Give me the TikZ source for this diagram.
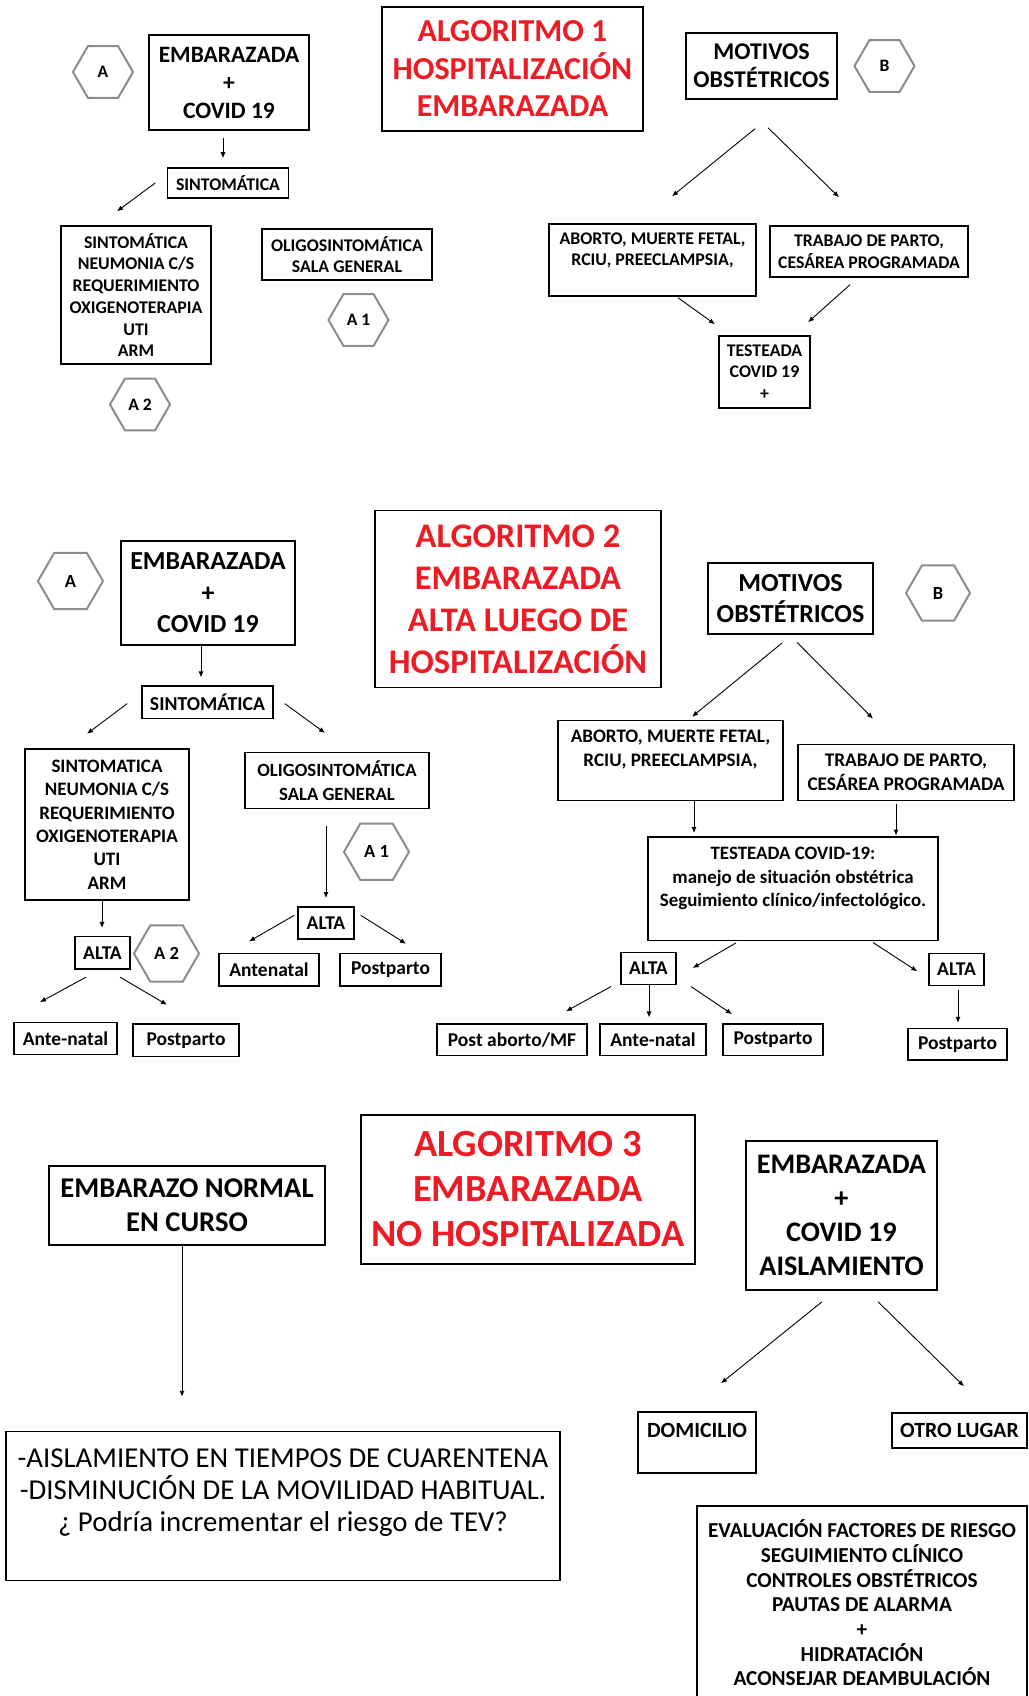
\documentclass[tikz,border=0pt]{standalone}
\usepackage{fontspec}
\setmainfont{Carlito}
\usetikzlibrary{arrows.meta,shapes.geometric}
\definecolor{algred}{RGB}{237,28,36}
\definecolor{hexgray}{RGB}{140,140,140}
\newcommand{\fsz}[2]{\fontsize{#1}{#2}\selectfont}
\tikzset{
  box/.style={draw, line width=1.5pt, align=center, inner sep=0pt, font=\bfseries\fsz{17.8}{21.7}},
  titlebox/.style={box, text=algred},
  hexa/.style={regular polygon, regular polygon sides=6, draw=hexgray, line width=2pt, inner sep=0pt, minimum size=60pt, font=\bfseries\fsz{17.5}{19}},
  arr/.style={-{Latex[length=6pt,width=5pt]}, line width=0.9pt},
}

\begin{document}
\begin{tikzpicture}[x=1pt,y=-1pt]
\useasboundingbox[fill=white] (0,0) rectangle (1028,1696);

% ALGORITMO 1
\node[titlebox, minimum width=261pt, minimum height=124pt, font=\bfseries\fsz{32}{37.5}] (tit1) at (512.5,69) {ALGORITMO 1\\HOSPITALIZACIÓN\\EMBARAZADA};
\node[hexa] (hexa1) at (103,72) {A};
\node[box, minimum width=160pt, minimum height=95pt, font=\bfseries\fsz{23.5}{28}] (emb1) at (229,82.5) {EMBARAZADA\\+\\COVID 19};
\node[box, minimum width=151pt, minimum height=66pt, font=\bfseries\fsz{24}{28}] (mot1) at (761.5,66) {MOTIVOS\\OBSTÉTRICOS};
\node[hexa] (hexb1) at (884.5,66) {B};
\node[box, minimum width=121pt, minimum height=30pt] (sint1) at (228,183) {SINTOMÁTICA};
\node[box, minimum width=150pt, minimum height=138pt] (neu1) at (136,295) {SINTOMÁTICA\\NEUMONIA C/S\\REQUERIMIENTO\\OXIGENOTERAPIA\\UTI\\ARM};
\node[box, minimum width=170pt, minimum height=51pt] (oli1) at (347,254.5) {OLIGOSINTOMÁTICA\\SALA GENERAL};
\node[hexa] (hexaa1) at (358.5,320) {A 1};
\node[hexa] (hexab1) at (140,404.5) {A 2};
\node[box, minimum width=207pt, minimum height=72pt] (abo1) at (652.5,260) {ABORTO, MUERTE FETAL,\\RCIU, PREECLAMPSIA,\\ \mbox{}};
\node[box, minimum width=198pt, minimum height=51pt] (tra1) at (869,251.5) {TRABAJO DE PARTO,\\CESÁREA PROGRAMADA};
\node[box, minimum width=91pt, minimum height=72pt] (tes1) at (764.5,372) {TESTEADA\\COVID 19\\+};

\draw[arr] ([shift={(-6,7)}]emb1.south) -- ([shift={(-5,-9)}]sint1.north);
\draw[arr] ([shift={(-11.5,0)}]sint1.west) -- ([shift={(-19,-14)}]neu1.north);
\draw[arr] ([shift={(-6.5,29)}]mot1.south) -- ([shift={(19.5,-27)}]abo1.north);
\draw[arr] ([shift={(6.5,28)}]mot1.south) -- ([shift={(-30,-28)}]tra1.north);
\draw[arr] ([shift={(25.5,1)}]abo1.south) -- ([shift={(-49.5,-11)}]tes1.north);
\draw[arr] ([shift={(-19,7)}]tra1.south) -- ([shift={(43.5,-13)}]tes1.north);

% ALGORITMO 2
\node[titlebox, minimum width=286pt, minimum height=177pt, font=\bfseries\fsz{34.5}{42}] (tit2) at (518,599) {ALGORITMO 2\\EMBARAZADA\\ALTA LUEGO DE\\HOSPITALIZACIÓN};
\node[hexa, minimum size=65pt, font=\bfseries\fsz{18.5}{20}] (hexa2) at (70.5,581) {A};
\node[box, minimum width=174pt, minimum height=104pt, font=\bfseries\fsz{26}{31.5}] (emb2) at (208,593) {EMBARAZADA\\+\\COVID 19};
\node[box, minimum width=165pt, minimum height=71pt, font=\bfseries\fsz{26}{31.6}] (mot2) at (790.5,598.5) {MOTIVOS\\OBSTÉTRICOS};
\node[hexa, minimum size=64pt, font=\bfseries\fsz{18.5}{20}] (hexb2) at (938,593) {B};
\node[box, minimum width=131pt, minimum height=32.4pt, font=\bfseries\fsz{19.7}{22}] (sint2) at (207.5,702.4) {SINTOMÁTICA};
\node[box, minimum width=164pt, minimum height=151pt, font=\bfseries\fsz{19}{23.4}] (neu2) at (107,824.5) {SINTOMATICA\\NEUMONIA C/S\\REQUERIMIENTO\\OXIGENOTERAPIA\\UTI\\ARM};
\node[box, minimum width=184pt, minimum height=56pt, font=\bfseries\fsz{18.7}{24}] (oli2) at (337,780.7) {OLIGOSINTOMÁTICA\\SALA GENERAL};
\node[hexa, minimum size=65pt, font=\bfseries\fsz{18.5}{20}] (hexaa2) at (376.5,851.8) {A 1};
\node[hexa, minimum size=65pt, font=\bfseries\fsz{18.5}{20}] (hexab2) at (166.5,953.5) {A 2};
\node[box, minimum width=55pt, minimum height=32.4pt, font=\bfseries\fsz{19.5}{22}] (alta2a) at (102.5,952.9) {ALTA};
\node[box, minimum width=56pt, minimum height=32.4pt, font=\bfseries\fsz{19.5}{22}] (alta2b) at (326,923) {ALTA};
\node[box, minimum width=100pt, minimum height=32.4pt, font=\bfseries\fsz{19.5}{22}] (ante2b) at (269,969.7) {Antenatal};
\node[box, minimum width=101pt, minimum height=32.4pt, font=\bfseries\fsz{19.5}{22}] (post2b) at (390.5,969.7) {Postparto};
\node[box, minimum width=103pt, minimum height=32pt, font=\bfseries\fsz{19.5}{22}] (ante2a) at (65.5,1038.5) {Ante-natal};
\node[box, minimum width=106pt, minimum height=32.4pt, font=\bfseries\fsz{19.5}{22}] (post2a) at (186,1040.2) {Postparto};
\node[box, minimum width=225pt, minimum height=80pt, font=\bfseries\fsz{19.1}{24}] (abo2) at (670.5,760.4) {ABORTO, MUERTE FETAL,\\RCIU, PREECLAMPSIA,\\ \mbox{}};
\node[box, minimum width=216pt, minimum height=56pt, font=\bfseries\fsz{19.3}{24}] (tra2) at (906,772.4) {TRABAJO DE PARTO,\\CESÁREA PROGRAMADA};
\node[box, minimum width=290pt, minimum height=103.3pt, font=\bfseries\fsz{18.9}{23.7}] (tes2) at (793,888.7) {TESTEADA COVID-19:\\manejo de situación obstétrica\\Seguimiento clínico/infectológico.\\ \mbox{}};
\node[box, minimum width=55pt, minimum height=32pt, font=\bfseries\fsz{19.5}{22}] (alta2c) at (648.5,968.4) {ALTA};
\node[box, minimum width=55pt, minimum height=32pt, font=\bfseries\fsz{19.5}{22}] (alta2d) at (956.5,969.5) {ALTA};
\node[box, minimum width=150pt, minimum height=31.6pt, font=\bfseries\fsz{19.5}{22}] (posab2) at (512,1039.8) {Post aborto/MF};
\node[box, minimum width=106pt, minimum height=31.6pt, font=\bfseries\fsz{19.5}{22}] (ante2c) at (653,1039.8) {Ante-natal};
\node[box, minimum width=100pt, minimum height=31.6pt, font=\bfseries\fsz{19.5}{22}] (post2c) at (773,1039.8) {Postparto};
\node[box, minimum width=99pt, minimum height=31.6pt, font=\bfseries\fsz{19.5}{22}] (post2d) at (957.5,1044.2) {Postparto};

\draw[arr] ([shift={(-7,0)}]emb2.south) -- ([shift={(-6.5,-8)}]sint2.north);
\draw[arr] ([shift={(-14,1.2)}]sint2.west) -- ([shift={(-20,-14.5)}]neu2.north);
\draw[arr] ([shift={(11,1.2)}]sint2.east) -- ([shift={(-12,-19)}]oli2.north);
\draw[arr] ([shift={(-11,17)}]oli2.south) -- ([shift={(0,-8)}]alta2b.north);
\draw[arr] ([shift={(-5,0)}]neu2.south) -- ([shift={(-0.5,-8)}]alta2a.north);
\draw[arr] ([shift={(-3,-7.7)}]alta2b.west) -- ([shift={(-20,-11.3)}]ante2b.north);
\draw[arr] ([shift={(6,-7.7)}]alta2b.east) -- ([shift={(15.5,-9)}]post2b.north);
\draw[arr] ([shift={(-16.5,7.3)}]alta2a.south) -- ([shift={(-25.5,-19.6)}]ante2a.north);
\draw[arr] ([shift={(17.5,7.3)}]alta2a.south) -- ([shift={(-19,-18.5)}]post2a.north);
\draw[arr] ([shift={(-8.5,8.3)}]mot2.south) -- ([shift={(21.5,-2.9)}]abo2.north);
\draw[arr] ([shift={(6.5,7.6)}]mot2.south) -- ([shift={(-33,-25)}]tra2.north);
\draw[arr] ([shift={(23.5,0)}]abo2.south) -- ([shift={(-99,-3.3)}]tes2.north);
\draw[arr] ([shift={(-10,3.2)}]tra2.south) -- ([shift={(103,-0.7)}]tes2.north);
\draw[arr] ([shift={(-57,1.8)}]tes2.south) -- ([shift={(16,-0.4)}]alta2c.east);
\draw[arr] ([shift={(80,1.4)}]tes2.south) -- ([shift={(-11,1.8)}]alta2d.west);
\draw[arr] ([shift={(-37.5,1.4)}]alta2c.south) -- ([shift={(54,-12)}]posab2.north);
\draw[arr] ([shift={(0.5,0)}]alta2c.south) -- ([shift={(-4,-5.8)}]ante2c.north);
\draw[arr] ([shift={(42.5,1.4)}]alta2c.south) -- ([shift={(-41,-9.1)}]post2c.north);
\draw[arr] ([shift={(1.5,3.5)}]alta2d.south) -- ([shift={(0.5,-4.8)}]post2d.north);

% ALGORITMO 3
\node[titlebox, minimum width=334pt, minimum height=149pt, font=\bfseries\fsz{38.4}{45}] (tit3) at (528,1189.3) {ALGORITMO 3\\EMBARAZADA\\NO HOSPITALIZADA};
\node[box, minimum width=276pt, minimum height=79pt, font=\bfseries\fsz{28.6}{34}] (nor3) at (187,1205.3) {EMBARAZO NORMAL\\EN CURSO};
\node[box, minimum width=191pt, minimum height=149pt, font=\bfseries\fsz{28.3}{34}] (emb3) at (841.5,1215.5) {EMBARAZADA\\+\\COVID 19\\AISLAMIENTO};
\node[box, minimum width=554pt, minimum height=149pt, font=\fsz{28.8}{32}] (cua3) at (283,1506) {-AISLAMIENTO EN TIEMPOS DE CUARENTENA\\-DISMINUCIÓN DE LA MOVILIDAD HABITUAL.\\¿ Podría incrementar el riesgo de TEV?\\ \mbox{}};
\node[box, minimum width=118pt, minimum height=61pt, font=\bfseries\fsz{21.7}{25}] (dom3) at (697,1442.5) {DOMICILIO\\ \mbox{}};
\node[box, minimum width=135pt, minimum height=35pt, font=\bfseries\fsz{21.7}{25}] (otr3) at (959.5,1430.5) {OTRO LUGAR};
\node[box, minimum width=330pt, minimum height=194pt, font=\bfseries\fsz{21.3}{24.7}] (eva3) at (862,1603) {EVALUACIÓN FACTORES DE RIESGO\\SEGUIMIENTO CLÍNICO\\CONTROLES OBSTÉTRICOS\\PAUTAS DE ALARMA\\+\\HIDRATACIÓN\\ACONSEJAR DEAMBULACIÓN};

\draw[arr] ([shift={(-5,-2)}]nor3.south) -- ([shift={(-101,-34)}]cua3.north);
\draw[arr] ([shift={(-19.5,11)}]emb3.south) -- ([shift={(24,-28)}]dom3.north);
\draw[arr] ([shift={(36.5,11)}]emb3.south) -- ([shift={(4.5,-26)}]otr3.north);
\end{tikzpicture}
\end{document}
